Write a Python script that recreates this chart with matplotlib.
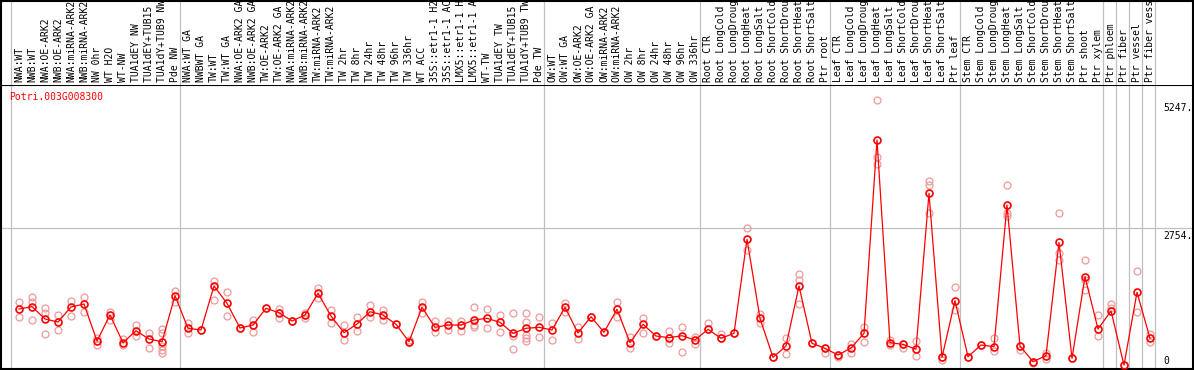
import matplotlib
matplotlib.use('Agg')
import matplotlib.pyplot as plt

# 样本名称（88 列）
labels = [
    'NWA:WT', 'NWB:WT', 'NWA:OE-ARK2', 'NWB:OE-ARK2', 'NWA:miRNA-ARK2', 'NWB:miRNA-ARK2',
    'NW 0hr', 'WT H2O', 'WT-NW', 'TUA1dEY NW', 'TUA1dEY+TUB15 NW', 'TUA1dY+TUB9 NW', 'Pde NW',
    'NWA:WT GA', 'NWBWT GA', 'TW:WT', 'TW:WT GA', 'NWA:OE-ARK2 GA', 'NWB:OE-ARK2 GA',
    'TW:OE-ARK2', 'TW:OE-ARK2 GA', 'NWA:miRNA-ARK2 GA', 'NWB:miRNA-ARK2 GA', 'TW:miRNA-ARK2',
    'TW:miRNA-ARK2 GA', 'TW 2hr', 'TW 8hr', 'TW 24hr', 'TW 48hr', 'TW 96hr', 'TW 336hr',
    'WT ACC', '35S::etr1-1 H2O', '35S::etr1-1 ACC', 'LMX5::etr1-1 H2O', 'LMX5::etr1-1 ACC',
    'WT-TW', 'TUA1dEY TW', 'TUA1dEY+TUB15 TW', 'TUA1dY+TUB9 TW', 'Pde TW',
    'OW:WT', 'OW:WT GA', 'OW:OE-ARK2', 'OW:OE-ARK2 GA', 'OW:miRNA-ARK2', 'OW:miRNA-ARK2 GA',
    'OW 2hr', 'OW 8hr', 'OW 24hr', 'OW 48hr', 'OW 96hr', 'OW 336hr',
    'Root CTR', 'Root LongCold', 'Root LongDrought', 'Root LongHeat', 'Root LongSalt',
    'Root ShortCold', 'Root ShortDrought', 'Root ShortHeat', 'Root ShortSalt', 'Ptr root',
    'Leaf CTR', 'Leaf LongCold', 'Leaf LongDrought', 'Leaf LongHeat', 'Leaf LongSalt',
    'Leaf ShortCold', 'Leaf ShortDrought', 'Leaf ShortHeat', 'Leaf ShortSalt', 'Ptr leaf',
    'Stem CTR', 'Stem LongCold', 'Stem LongDrought', 'Stem LongHeat', 'Stem LongSalt',
    'Stem ShortCold', 'Stem ShortDrought', 'Stem ShortHeat', 'Stem ShortSalt', 'Ptr shoot',
    'Ptr xylem', 'Ptr phloem', 'Ptr fiber', 'Ptr vessel', 'Ptr fiber vessel',
]

# 平均表达值
means = [
    1172, 1217, 977, 918, 1211, 1269, 547, 1055, 514, 748,
    586, 533, 1432, 795, 762, 1621, 1283, 801, 859, 1185,
    1100, 937, 1055, 1478, 1035, 709, 879, 1119, 1055, 873,
    533, 1205, 814, 859, 859, 957, 990, 912, 697, 795,
    814, 762, 1205, 703, 1021, 717, 1166, 514, 873, 644,
    611, 650, 566, 775, 600, 697, 2533, 990, 228, 449,
    1621, 502, 404, 273, 410, 697, 4472, 514, 482, 385,
    3431, 228, 1334, 240, 469, 436, 3203, 449, 143, 260,
    2474, 209, 1803, 781, 1133, 78, 1498, 600,
]

# 各重复的表达值
reps = [
    [1309, 1016], [1412, 1309, 957], [1191, 1094, 684], [1055, 762], [1334, 1035],
    [1412, 1119], [605, 469], [1113, 957], [586, 469], [859, 644],
    [709, 404], [781, 703, 449, 371, 318], [1523, 1314], [898, 703], [762],
    [1724, 1348], [1510, 1035], [801], [957, 728], [1185],
    [1172, 1002], [937], [1094, 996], [1582, 1387], [1152, 904],
    [859, 566], [1021, 742], [1250, 1021], [1152, 957], [873],
    [566, 533], [1303, 1088], [943, 728], [943, 762], [943, 748],
    [1217, 859, 826], [1166, 795], [1055, 717], [1088, 644, 385], [1088, 924, 664, 605, 553],
    [1021, 619], [904, 566], [1295, 1119], [826, 580], [1021],
    [717], [1303, 1021], [631, 416], [990, 697], [644],
    [742, 514], [826, 338], [631, 488], [893, 775], [684, 600],
    [697], [2748, 2324], [1074, 904], [228], [600, 293],
    [1855, 1738, 1269], [502], [404, 318], [273, 228], [488, 318],
    [826, 533], [5247, 4146, 3998], [566, 469], [482, 404], [547, 254],
    [3672, 3594, 3041], [228, 176], [1596, 1152], [240], [469],
    [611, 352], [3594, 3053, 2988], [449, 371], [143, 111], [307, 195],
    [3041, 2260, 2129], [209], [2129, 1738, 1543], [1055, 650], [1264, 1197],
    [78], [1914, 1107], [678, 533],
]

# 分组分隔线（在这些列之后）
group_ends = [-1, 12, 40, 52, 62, 72, 83, 84, 85, 86, 87]
yticks = [0, 2754, 5247]
gene = 'Potri.003G008300'

W, H = 1194, 370
HEAD = 85          # 表头高度（像素）
YMAX = 5547        # 绘图区顶部对应的数值
FONT = 'DejaVu Sans Mono'
GRID = '#c0c0c0'

fig = plt.figure(figsize=(W / 100, H / 100), dpi=100)
ax = fig.add_axes([1 / W, 1 / H, (W - 2) / W, (H - 1 - HEAD) / H])
ah = fig.add_axes([1 / W, (H - HEAD) / H, (W - 2) / W, (HEAD - 1) / H])

xlim = (-18 / 13, 1174 / 13)
for a in (ax, ah):
    a.set_xlim(xlim)
    a.set_xticks([])
    a.set_yticks([])
    for g in group_ends:
        a.axvline(g + 0.4, color=GRID, lw=0.9, zorder=0)
    for s in a.spines.values():
        s.set_linewidth(1.5)
        s.set_color('black')
ah.set_ylim(0, 1)
ah.spines['bottom'].set_visible(False)
ax.set_ylim(0, YMAX)

# 表头：竖排样本名
for i, lab in enumerate(labels):
    ah.text(i, 3 / HEAD, lab, rotation=90, ha='center', va='bottom',
            family=FONT, fontsize=7, clip_on=True)

# 水平网格线
ax.axhline(2754, color=GRID, lw=0.9, zorder=0)

# 重复样本
rx = [i for i, r in enumerate(reps) for _ in r]
ry = [v for r in reps for v in r]
ax.plot(rx, ry, 'o', ms=5, mfc='none', mec='#ee9a9a', mew=0.9, zorder=2)

# 平均值折线
ax.plot(range(len(means)), means, '-', color='red', lw=0.9, zorder=3)
ax.plot(range(len(means)), means, 'o', ms=5, mfc='none', mec='red', mew=1.2, zorder=4)

# 基因名
ax.annotate(gene, xy=(0, 1), xycoords='axes fraction', xytext=(8, -12),
            textcoords='offset pixels', ha='left', va='center',
            color='red', family=FONT, fontsize=7)

# 右侧刻度文字
ytr = ax.get_yaxis_transform()
for v in yticks:
    if v == 0:
        ax.annotate('0', xy=(1, v), xycoords=ytr, xytext=(-30, 3),
                    textcoords='offset pixels', ha='left', va='bottom',
                    family=FONT, fontsize=7)
    else:
        ax.annotate(f'{v}.', xy=(1, v), xycoords=ytr, xytext=(-30, -3),
                    textcoords='offset pixels', ha='left', va='top',
                    family=FONT, fontsize=7)

fig.savefig('out.png', dpi=100)
